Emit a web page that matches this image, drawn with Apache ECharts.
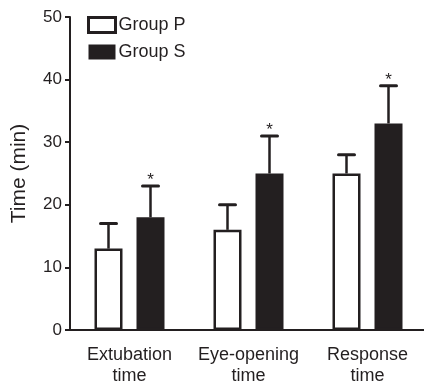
<!DOCTYPE html>
<html>
<head>
<meta charset="utf-8">
<script src="https://cdn.jsdelivr.net/npm/echarts@6/dist/echarts.min.js"></script>
<style>html,body{margin:0;padding:0;background:#fff}#c{width:424px;height:385px}</style>
</head>
<body>
<div id="c"></div>
<script>
var categories = ['Extubation\ntime', 'Eye-opening\ntime', 'Response\ntime'];
var groupP = [13, 16, 25];
var groupPSD = [4, 4, 3];
var groupS = [18, 25, 33];
var groupSSD = [5, 6, 6];
var significantS = [true, true, true];
var yTicks = [0, 10, 20, 30, 40, 50];

var INK = '#231f20';
var BAR_W = 28, GAP = 0.5;
var OFF = (BAR_W + BAR_W * GAP) / 2;

function errSeries(name, means, sds, sign, stars) {
  var data = means.map(function (m, i) { return [i, m, m + sds[i], stars ? (stars[i] ? 1 : 0) : 0]; });
  return {
    type: 'custom', name: name + ' err', z: 5, silent: true,
    data: data,
    encode: { x: 0, y: [1, 2] },
    renderItem: function (params, api) {
      var i = api.value(0);
      var p0 = api.coord([i, api.value(1)]);
      var p1 = api.coord([i, api.value(2)]);
      var x = p0[0] + sign * OFF;
      var half = 8;
      var ch = [
        { type: 'line', shape: { x1: x, y1: p0[1], x2: x, y2: p1[1] }, style: { stroke: INK, lineWidth: 2.5 } },
        { type: 'line', shape: { x1: x - half, y1: p1[1], x2: x + half, y2: p1[1] }, style: { stroke: INK, lineWidth: 3, lineCap: 'round' } }
      ];
      if (api.value(3)) {
        ch.push({ type: 'text', x: x, y: p1[1] + 3, style: { text: '*', fill: INK, font: '17px "Liberation Sans", Arial, sans-serif', align: 'center', verticalAlign: 'bottom' } });
      }
      return { type: 'group', children: ch };
    }
  };
}

var chart = echarts.init(document.getElementById('c'), null, { renderer: 'canvas' });
chart.setOption({
  backgroundColor: '#fff',
  animation: false,
  textStyle: { fontFamily: '"Liberation Sans", Arial, sans-serif', color: INK },
  grid: { left: 70, right: -3, top: 17, bottom: 55, containLabel: false, outerBoundsMode: 'none' },
  legend: {
    orient: 'vertical', left: 87, top: 16, padding: 0, itemWidth: 27, itemHeight: 15, itemGap: 9,
    textStyle: { fontSize: 18, color: INK, padding: [0, 0, 0, -2] },
    data: [
      { name: 'Group P', icon: 'rect', itemStyle: { color: '#fff', borderColor: INK, borderWidth: 3 } },
      { name: 'Group S', icon: 'rect', itemStyle: { color: INK, borderWidth: 0 } }
    ]
  },
  xAxis: {
    type: 'category', data: categories, boundaryGap: true,
    axisLine: { lineStyle: { color: INK, width: 2 } },
    axisTick: { alignWithLabel: true, length: 5, lineStyle: { color: INK, width: 2 } },
    axisLabel: { interval: 0, fontSize: 18, color: INK, margin: 15, lineHeight: 21 }
  },
  yAxis: {
    type: 'value', min: 0, max: 50, interval: 10,
    name: 'Time (min)', nameLocation: 'middle', nameGap: 40, nameRotate: 90,
    nameTextStyle: { fontSize: 21, color: INK },
    axisLine: { show: true, lineStyle: { color: INK, width: 2 } },
    axisTick: { show: true, length: 5, lineStyle: { color: INK, width: 2 } },
    axisLabel: { fontSize: 17, color: INK, margin: 8, formatter: function (v) { return yTicks.indexOf(v) >= 0 ? String(v) : ''; } },
    splitLine: { show: false }
  },
  series: [
    { type: 'bar', name: 'Group P', data: groupP, barWidth: BAR_W, barGap: (GAP * 100) + '%',
      itemStyle: { color: '#fff', borderColor: INK, borderWidth: 2.5 } },
    { type: 'bar', name: 'Group S', data: groupS, barWidth: BAR_W,
      itemStyle: { color: INK, borderColor: INK, borderWidth: 2.5 } },
    errSeries('Group P', groupP, groupPSD, -1, null),
    errSeries('Group S', groupS, groupSSD, 1, significantS)
  ]
});
</script>
</body>
</html>
